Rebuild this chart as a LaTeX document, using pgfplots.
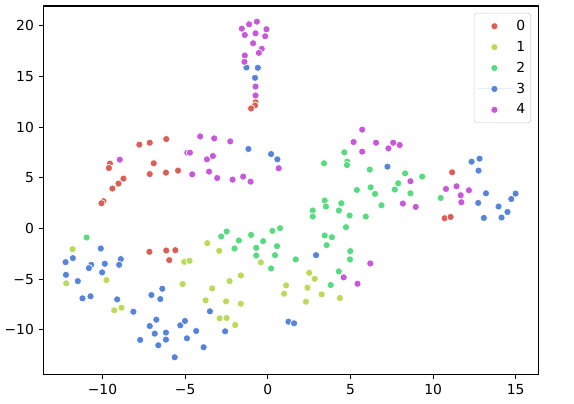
\documentclass[border=0pt]{standalone}
\usepackage{fontspec}
\setmainfont{DejaVu Sans}
\usepackage{pgfplots}
\pgfplotsset{compat=1.18}
\definecolor{c0}{HTML}{DB5F57}
\definecolor{c1}{HTML}{B9DB57}
\definecolor{c2}{HTML}{57DB80}
\definecolor{c3}{HTML}{5784DB}
\definecolor{c4}{HTML}{C957DB}
\pgfplotsset{
  pt/.style={only marks, mark=*, mark size=2.6pt, draw=white, fill=#1, line width=0.5pt,
    mark options={draw=white, fill=#1, line width=0.5pt}},
}
\begin{document}
\begin{tikzpicture}
\begin{axis}[
  scale only axis,
  width=357pt, height=265.7pt,
  xmin=-13.56, xmax=16.37, ymin=-14.37, ymax=21.95,
  xtick={-10,-5,0,5,10,15},
  xticklabels={−10,−5,0,5,10,15},
  ytick={-10,-5,0,5,10,15,20},
  yticklabels={−10,−5,0,5,10,15,20},
  tick align=outside, tick pos=left,
  major tick length=3.5pt,
  major tick style={black, line width=0.8pt},
  axis line style={line width=0.8pt},
  tick label style={font=\fontsize{10}{12}\selectfont},
  legend style={at={(rel axis cs:1,1)}, anchor=north east, xshift=-5.3pt, yshift=-5pt,
    draw=black!18, rounded corners=2pt, fill=white,
    font=\fontsize{10}{12}\selectfont, row sep=2.2pt, inner xsep=2pt, inner ysep=3pt},
  legend cell align=left,
  legend image code/.code={\path (0pt,0pt) -- (26pt,0pt); \draw[#1] plot coordinates {(12.4pt,0pt)};},
]
% class 0
\addplot[pt=c0] coordinates {
(-7.77,8.27) (-7.14,8.46) (-6.14,8.82) (-9.55,6.40) (-9.61,5.97) (-6.90,6.43)
(-7.14,5.37) (-6.16,5.51) (-5.43,5.71) (-8.73,4.92) (-9.03,4.43) (-9.40,3.94)
(-9.94,2.69) (-10.06,2.49) (-7.16,-2.30) (-6.14,-2.17) (-5.59,-2.14) (-5.96,-3.12)
(-0.74,12.46) (-0.77,12.14) (-1.01,11.84) (11.15,5.54) (10.70,1.01) (11.06,1.14)
};
% class 1
\addplot[pt=c1] coordinates {
(-11.81,-2.04) (-12.19,-5.41) (-9.76,-5.09) (-9.29,-8.07) (-8.85,-7.81) (-5.05,-3.29)
(-4.73,-3.19) (-5.15,-5.48) (-3.66,-1.45) (-2.94,-2.20) (-3.76,-7.09) (-3.36,-5.91)
(-2.31,-5.19) (-1.63,-4.63) (-2.52,-7.19) (-1.63,-7.42) (-2.91,-8.86) (-2.49,-8.83)
(-1.97,-9.52) (-0.42,-3.35) (1.11,-5.61) (0.99,-6.43) (2.51,-4.37) (2.84,-4.96)
(2.40,-5.84) (3.26,-6.50) (2.31,-7.22) (4.36,-6.86)
};
% class 2
\addplot[pt=c2] coordinates {
(-10.96,-0.89) (-2.49,-0.30) (-2.82,-0.79) (-1.75,-1.18) (-1.01,-0.63) (-0.28,-1.25)
(-0.70,-1.91) (0.28,-0.24) (0.74,0.03) (0.56,-1.74) (-2.01,-1.97) (-0.70,-2.66)
(0.44,-2.63) (0.20,-3.94) (1.69,-3.05) (3.40,6.43) (4.63,7.51) (4.81,6.59)
(4.79,6.26) (6.17,5.81) (5.39,3.80) (6.22,4.06) (6.49,3.41) (3.44,2.76)
(3.52,2.17) (4.45,2.49) (2.72,1.77) (2.72,1.18) (4.30,1.77) (4.95,1.28)
(5.93,1.18) (4.73,0.13) (3.44,-0.69) (3.88,-0.86) (3.56,-1.64) (4.99,-2.23)
(4.97,-3.05) (4.30,-4.23) (3.81,-5.58) (8.31,5.44) (9.34,5.12) (7.89,4.46)
(7.68,3.84) (8.63,3.47) (6.88,2.29) (10.46,3.01)
};
% class 3
\addplot[pt=c3] coordinates {
(-1.29,15.88) (-0.60,15.85) (-0.77,14.86) (-1.17,7.84) (0.20,7.34) (0.58,6.82)
(7.24,6.10) (12.33,6.59) (12.81,6.89) (12.75,5.71) (13.20,3.47) (12.73,2.52)
(13.07,1.04) (13.96,2.17) (14.73,2.91) (14.99,3.44) (14.50,1.63) (14.14,1.08)
(-10.10,-1.97) (-12.23,-3.32) (-11.79,-2.92) (-10.68,-3.58) (-10.82,-3.91) (-9.86,-3.48)
(-8.89,-3.02) (-8.99,-3.58) (-12.21,-4.57) (-11.49,-5.19) (-10.02,-4.33) (-11.21,-6.89)
(-10.72,-6.69) (-9.11,-6.99) (-8.13,-8.21) (-6.38,-5.94) (-7.04,-6.56) (-6.50,-6.96)
(-6.74,-8.99) (-7.14,-9.62) (-6.84,-10.37) (-7.72,-10.99) (-6.16,-10.27) (-6.16,-10.96)
(-6.62,-11.52) (-5.63,-12.70) (-5.29,-9.55) (-5.01,-9.12) (-4.33,-10.11) (-4.89,-10.83)
(-3.88,-11.71) (-3.50,-8.17) (-2.58,-10.14) (1.25,-9.19) (1.59,-9.35) (2.92,-2.63)
};
% class 4
\addplot[pt=c4] coordinates {
(-0.66,20.40) (-1.13,20.14) (-1.57,19.71) (-0.08,19.65) (-1.39,19.09) (-0.74,19.25)
(-0.16,18.96) (-0.89,18.27) (-0.36,17.72) (-0.54,17.32) (-1.39,17.06) (-1.41,16.44)
(-0.74,14.00) (-0.74,13.12) (5.71,9.75) (6.55,8.46) (-8.95,6.79) (-4.09,9.08)
(-4.87,7.48) (-4.71,7.48) (-4.57,5.34) (-3.68,6.82) (-3.32,7.15) (-3.55,5.61)
(-3.24,8.89) (-2.27,8.59) (-3.06,4.98) (-2.13,4.82) (-1.49,5.12) (-1.04,4.62)
(0.66,5.94) (5.19,8.53) (5.71,7.58) (7.59,8.46) (7.30,7.90) (7.98,8.23)
(8.63,4.66) (8.17,2.46) (8.95,2.13) (10.78,3.90) (11.42,4.16) (12.17,3.77)
(11.67,3.28) (11.71,2.59) (4.59,-4.82) (5.43,-5.45) (6.20,-3.45)
};
\legend{0,1,2,3,4}
\end{axis}
\path ([xshift=-30.5pt,yshift=-20.9pt]current axis.south west) rectangle ([xshift=25.7pt,yshift=4.3pt]current axis.north east);
\end{tikzpicture}
\end{document}
